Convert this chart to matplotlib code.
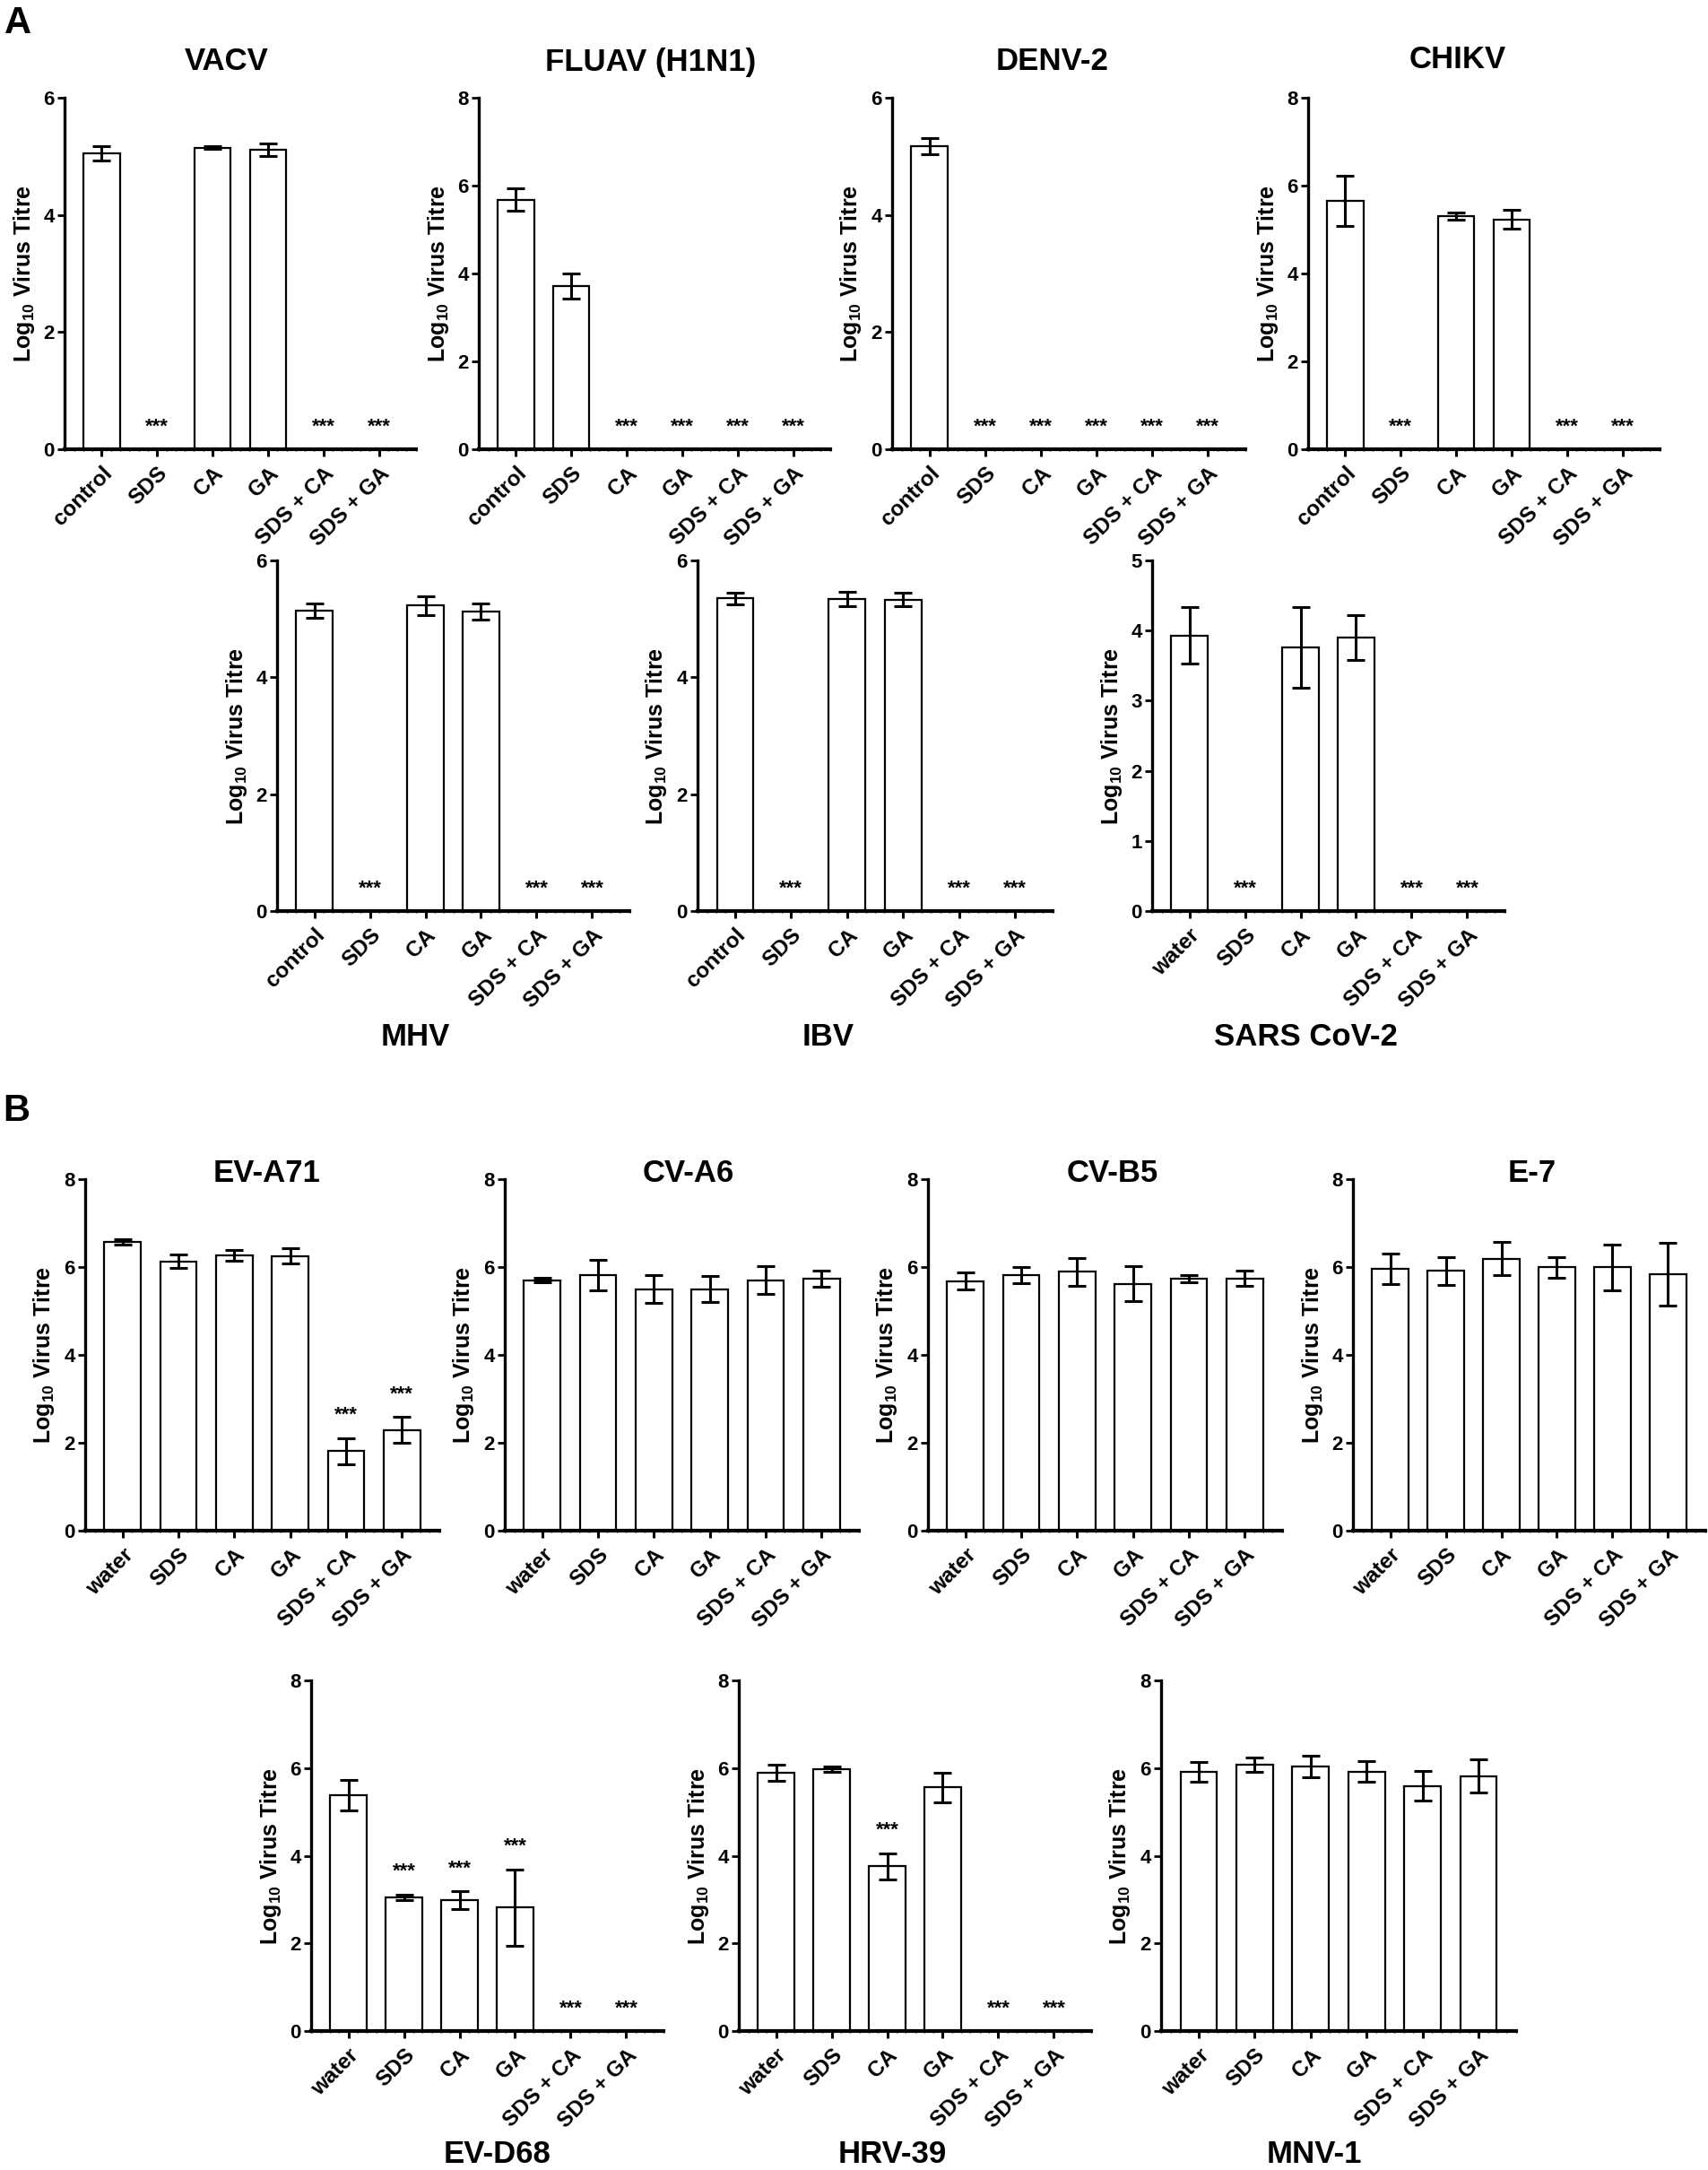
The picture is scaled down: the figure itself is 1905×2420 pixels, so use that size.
import matplotlib
matplotlib.use('Agg')
import matplotlib.pyplot as plt
from matplotlib.ticker import MultipleLocator

plt.rcParams['font.family'] = ['Liberation Sans', 'DejaVu Sans']
plt.rcParams['mathtext.default'] = 'regular'

W, H = 1905, 2420

cats_control = ['control', 'SDS', 'CA', 'GA', 'SDS + CA', 'SDS + GA']
cats_water = ['water', 'SDS', 'CA', 'GA', 'SDS + CA', 'SDS + GA']

# log10 virus titre: mean, error, significance (***)
vacv = [5.05, 0, 5.15, 5.11, 0, 0]
vacv_err = [0.12, 0, 0.03, 0.11, 0, 0]
vacv_sig = [0, 1, 0, 0, 1, 1]

fluav = [5.68, 3.72, 0, 0, 0, 0]
fluav_err = [0.25, 0.29, 0, 0, 0, 0]
fluav_sig = [0, 0, 1, 1, 1, 1]

denv = [5.17, 0, 0, 0, 0, 0]
denv_err = [0.14, 0, 0, 0, 0, 0]
denv_sig = [0, 1, 1, 1, 1, 1]

chikv = [5.66, 0, 5.31, 5.23, 0, 0]
chikv_err = [0.57, 0, 0.08, 0.21, 0, 0]
chikv_sig = [0, 1, 0, 0, 1, 1]

mhv = [5.14, 0, 5.23, 5.12, 0, 0]
mhv_err = [0.12, 0, 0.16, 0.14, 0, 0]
mhv_sig = [0, 1, 0, 0, 1, 1]

ibv = [5.35, 0, 5.34, 5.33, 0, 0]
ibv_err = [0.10, 0, 0.12, 0.12, 0, 0]
ibv_sig = [0, 1, 0, 0, 1, 1]

sars = [3.93, 0, 3.76, 3.90, 0, 0]
sars_err = [0.40, 0, 0.57, 0.32, 0, 0]
sars_sig = [0, 1, 0, 0, 1, 1]

eva71 = [6.57, 6.13, 6.27, 6.25, 1.81, 2.29]
eva71_err = [0.06, 0.15, 0.12, 0.17, 0.30, 0.30]
eva71_sig = [0, 0, 0, 0, 1, 1]

cva6 = [5.70, 5.82, 5.50, 5.50, 5.70, 5.74]
cva6_err = [0.05, 0.35, 0.31, 0.29, 0.32, 0.18]
cva6_sig = [0, 0, 0, 0, 0, 0]

cvb5 = [5.68, 5.81, 5.89, 5.62, 5.74, 5.74]
cvb5_err = [0.20, 0.18, 0.32, 0.40, 0.08, 0.17]
cvb5_sig = [0, 0, 0, 0, 0, 0]

e7 = [5.96, 5.91, 6.19, 5.99, 5.99, 5.84]
e7_err = [0.35, 0.31, 0.38, 0.23, 0.53, 0.72]
e7_sig = [0, 0, 0, 0, 0, 0]

evd68 = [5.38, 3.05, 2.99, 2.82, 0, 0]
evd68_err = [0.34, 0.07, 0.20, 0.87, 0, 0]
evd68_sig = [0, 1, 1, 1, 1, 1]

hrv39 = [5.89, 5.98, 3.76, 5.56, 0, 0]
hrv39_err = [0.19, 0.06, 0.30, 0.34, 0, 0]
hrv39_sig = [0, 0, 1, 0, 1, 1]

mnv1 = [5.91, 6.08, 6.04, 5.92, 5.59, 5.82]
mnv1_err = [0.22, 0.16, 0.24, 0.24, 0.34, 0.37]
mnv1_sig = [0, 0, 0, 0, 0, 0]

fig = plt.figure(figsize=(W / 100, H / 100), dpi=100)


def panel(box, title, tpos, cats, mean, err, sig, ymax, ystep):
    l, r, t, b = box
    ax = fig.add_axes([l / W, 1 - b / H, (r - l) / W, (b - t) / H])
    x = list(range(len(cats)))
    ax.bar(x, mean, width=0.65, color='white', edgecolor='black', linewidth=1.6, zorder=2)
    xe = [i for i in x if mean[i] > 0]
    ax.errorbar(xe, [mean[i] for i in xe], yerr=[err[i] for i in xe], fmt='none',
                ecolor='black', elinewidth=2.2, capsize=7.5, capthick=2.2, zorder=3)
    for i in x:
        if sig[i]:
            ax.annotate('***', (i, mean[i] + err[i]), xytext=(0, 14), textcoords='offset points',
                        ha='center', va='baseline', fontsize=16, fontweight='bold',
                        annotation_clip=False)
    ax.set_xlim(-0.67, len(cats) - 0.33)
    ax.set_ylim(0, ymax)
    for s in ['top', 'right']:
        ax.spines[s].set_visible(False)
    ax.spines['left'].set_linewidth(2.4)
    ax.spines['bottom'].set_linewidth(3)
    ax.set_yticks(range(0, ymax + 1, ystep))
    ax.tick_params(axis='y', length=6, width=2, labelsize=16, pad=2)
    for tl in ax.get_yticklabels():
        tl.set_fontweight('bold')
    ax.set_xticks(x)
    ax.set_xticklabels(cats, rotation=45, ha='right', rotation_mode='anchor',
                       fontsize=17.5, fontweight='bold')
    ax.tick_params(axis='x', length=6, width=2.2, pad=5)
    ax.xaxis.set_minor_locator(MultipleLocator(1 / 6))
    ax.tick_params(axis='x', which='minor', length=3, width=1, direction='inout')
    ax.set_ylabel('Log$_{10}$ Virus Titre', fontsize=18, fontweight='bold')
    ax.yaxis.set_label_coords(-0.08, 0.5)
    fig.text(tpos[0] / W, 1 - tpos[1] / H, title, ha='center', va='center',
             fontsize=25, fontweight='bold')
    return ax


# panel A
panel((72, 464, 109, 501), 'VACV', (253, 69), cats_control, vacv, vacv_err, vacv_sig, 6, 2)
panel((534, 926, 109, 501), 'FLUAV (H1N1)', (726, 69), cats_control, fluav, fluav_err, fluav_sig, 8, 2)
panel((995, 1389, 109, 501), 'DENV-2', (1174, 69), cats_control, denv, denv_err, denv_sig, 6, 2)
panel((1459, 1851, 109, 501), 'CHIKV', (1626, 66), cats_control, chikv, chikv_err, chikv_sig, 8, 2)
panel((309, 702, 625, 1016), 'MHV', (463, 1157), cats_control, mhv, mhv_err, mhv_sig, 6, 2)
panel((778, 1174, 625, 1016), 'IBV', (924, 1157), cats_control, ibv, ibv_err, ibv_sig, 6, 2)
panel((1285, 1678, 625, 1016), 'SARS CoV-2', (1456, 1157), cats_water, sars, sars_err, sars_sig, 5, 1)

# panel B
panel((95, 490, 1315, 1707), 'EV-A71', (298, 1309), cats_water, eva71, eva71_err, eva71_sig, 8, 2)
panel((563, 958, 1315, 1707), 'CV-A6', (768, 1309), cats_water, cva6, cva6_err, cva6_sig, 8, 2)
panel((1035, 1430, 1315, 1707), 'CV-B5', (1241, 1309), cats_water, cvb5, cvb5_err, cvb5_sig, 8, 2)
panel((1509, 1902, 1315, 1707), 'E-7', (1709, 1309), cats_water, e7, e7_err, e7_sig, 8, 2)
panel((347, 740, 1874, 2265), 'EV-D68', (555, 2402), cats_water, evd68, evd68_err, evd68_sig, 8, 2)
panel((824, 1217, 1874, 2265), 'HRV-39', (995, 2402), cats_water, hrv39, hrv39_err, hrv39_sig, 8, 2)
panel((1295, 1691, 1874, 2265), 'MNV-1', (1466, 2402), cats_water, mnv1, mnv1_err, mnv1_sig, 8, 2)

fig.text(20 / W, 1 - 26 / H, 'A', ha='center', va='center', fontsize=30, fontweight='bold')
fig.text(18 / W, 1 - 1239 / H, 'B', ha='center', va='center', fontsize=30, fontweight='bold')

fig.savefig('out.png', dpi=100)
